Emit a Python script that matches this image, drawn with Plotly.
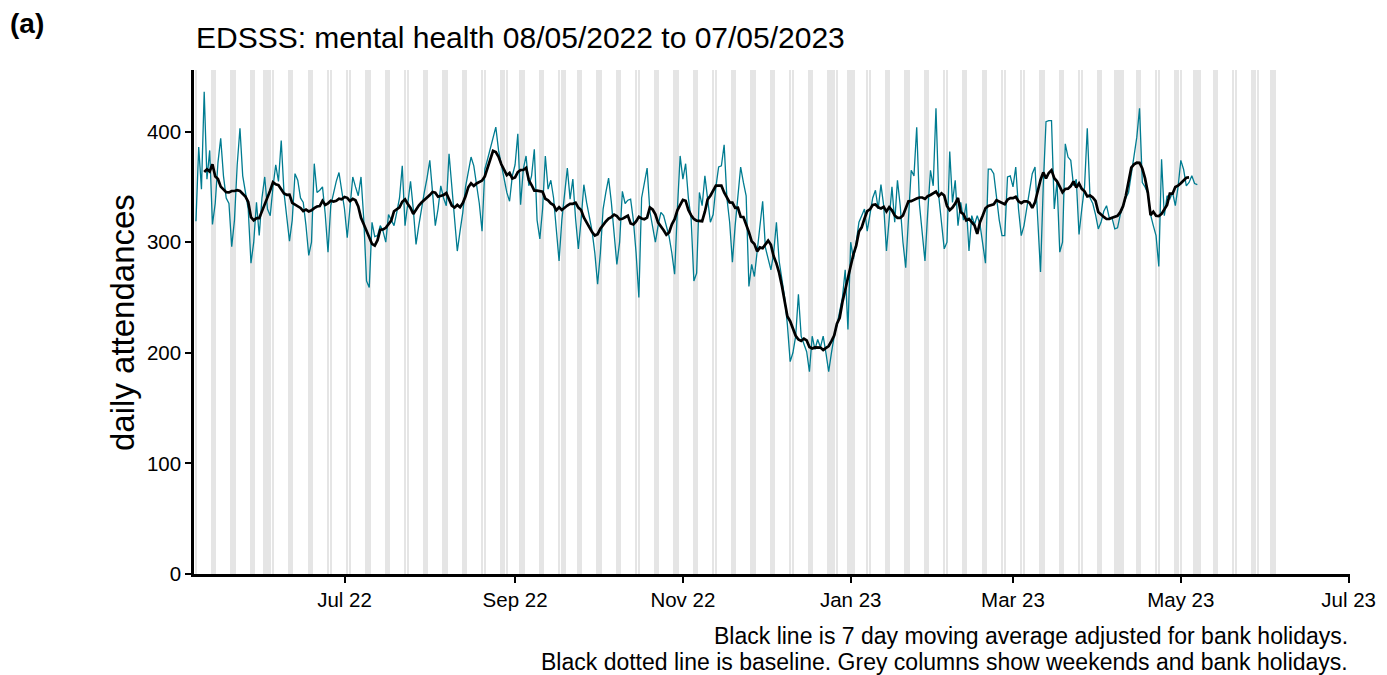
import pandas as pd
import plotly.graph_objects as go

# Daily mental health attendances, 08/05/2022 to 07/05/2023 (weeks start on Sunday)
start_date = "2022-05-08"
daily_attendances = [
    319, 386, 348, 436, 357, 383, 316,
    335, 372, 394, 360, 340, 335, 296,
    320, 370, 403, 360, 345, 330, 281,
    300, 336, 306, 340, 359, 330, 324,
    350, 370, 355, 392, 345, 325, 301,
    320, 362, 356, 340, 336, 315, 288,
    300, 371, 345, 347, 350, 325, 291,
    333, 345, 355, 363, 345, 330, 304,
    330, 359, 350, 342, 359, 321, 265,
    259, 318, 305, 306, 315, 310, 300,
    325, 320, 315, 327, 340, 369, 315,
    335, 355, 330, 298, 315, 331, 345,
    358, 374, 345, 315, 330, 351, 340,
    333, 380, 350, 327, 292, 310, 327,
    350, 365, 377, 369, 350, 335, 310,
    366, 375, 385, 395, 404, 383, 370,
    359, 345, 337, 360, 370, 398, 334,
    366, 378, 351, 360, 384, 320, 303,
    330, 378, 348, 356, 340, 310, 283,
    320, 345, 367, 339, 357, 321, 294,
    320, 352, 336, 324, 310, 290, 262,
    290, 330, 345, 358, 336, 310, 280,
    300, 346, 335, 338, 339, 320, 290,
    250, 340, 355, 367, 328, 315, 300,
    315, 327, 324, 315, 305, 290, 271,
    330, 378, 357, 371, 340, 321, 265,
    272, 345, 333, 360, 340, 318, 325,
    350, 368, 369, 388, 340, 318, 282,
    315, 340, 368, 354, 342, 260, 280,
    269, 291, 310, 337, 295, 285, 275,
    290, 318, 283, 265, 250, 225, 192,
    200, 215, 253, 215, 208, 201, 183,
    215, 203, 212, 205, 215, 200, 183,
    200, 215, 225, 236, 250, 275, 221,
    300, 285, 300, 318, 324, 330, 310,
    327, 340, 347, 330, 352, 333, 292,
    320, 350, 318, 356, 333, 300, 277,
    320, 365, 360, 404, 334, 310, 283,
    327, 365, 351, 421, 342, 320, 294,
    300, 382, 336, 356, 315, 336, 320,
    335, 292, 324, 316, 324, 316, 300,
    281, 366, 366, 362, 339, 320, 306,
    306, 359, 360, 350, 368, 330, 306,
    315, 330, 348, 362, 368, 321, 273,
    351, 409, 410, 410, 330, 355, 291,
    300, 389, 377, 374, 351, 357, 307,
    330, 350, 403, 340, 335, 325, 312,
    318, 328, 333, 322, 322, 312, 313,
    325, 333, 340, 345, 360, 378, 395,
    421, 354, 350, 344, 325, 315, 306,
    278, 375, 324, 342, 339, 345, 333,
    350, 374, 366, 351, 354, 360, 353,
    352,
]

# England bank holidays in the period shown
bank_holidays = [
    "2022-06-02", "2022-06-03", "2022-08-29", "2022-09-19",
    "2022-12-26", "2022-12-27", "2023-01-02", "2023-04-07",
    "2023-04-10", "2023-05-01", "2023-05-08", "2023-05-29",
]
shading_end = "2023-06-04"

x_tick_dates = ["2022-07-01", "2022-09-01", "2022-11-01", "2023-01-01",
                "2023-03-01", "2023-05-01", "2023-07-01"]
x_tick_labels = ["Jul 22", "Sep 22", "Nov 22", "Jan 23", "Mar 23", "May 23", "Jul 23"]
y_tick_values = [0, 100, 200, 300, 400]

title_text = "EDSSS: mental health 08/05/2022 to 07/05/2023"
caption_lines = [
    "Black line is 7 day moving average adjusted for bank holidays.",
    "Black dotted line is baseline. Grey columns show weekends and bank holidays.",
]

# ---- derived series ----
dates = pd.date_range(start_date, periods=len(daily_attendances), freq="D")
series = pd.Series(daily_attendances, index=dates, dtype=float)
moving_avg = series.rolling(7, center=True).mean()

cal = pd.date_range(start_date, shading_end, freq="D")
bh = pd.to_datetime(bank_holidays)
shade_days = cal[(cal.dayofweek >= 5) | cal.isin(bh)]

Y_TOP = 455.7
X_RANGE = ["2022-05-07 07:00", "2023-07-01 12:00"]
DAY_MS = 86400000
FONT = "Arial, 'Liberation Sans', sans-serif"
TEAL = "#007C91"

fig = go.Figure()
fig.add_trace(go.Bar(
    x=shade_days, y=[Y_TOP] * len(shade_days), width=0.9 * DAY_MS,
    marker=dict(color="#E5E5E5", line=dict(width=0)),
    hoverinfo="skip", showlegend=False,
))
fig.add_trace(go.Scatter(
    x=dates, y=series.values, mode="lines",
    line=dict(color=TEAL, width=1.3), showlegend=False,
))
fig.add_trace(go.Scatter(
    x=dates, y=moving_avg.values, mode="lines",
    line=dict(color="black", width=2.7), showlegend=False,
))

fig.update_layout(
    width=1387, height=675,
    margin=dict(l=194, r=37, t=70, b=101),
    paper_bgcolor="white", plot_bgcolor="white",
    bargap=0, font=dict(family=FONT, color="black"),
    xaxis=dict(
        type="date", range=X_RANGE,
        tickvals=x_tick_dates, ticktext=x_tick_labels,
        ticks="outside", ticklen=6, tickwidth=2, tickcolor="black",
        showline=True, linecolor="black", linewidth=2.5,
        showgrid=False, zeroline=False,
        tickfont=dict(size=20.5, family=FONT, color="black"),
    ),
    yaxis=dict(
        range=[0, Y_TOP], tickvals=y_tick_values,
        ticks="outside", ticklen=6, tickwidth=2, tickcolor="black",
        showline=True, linecolor="black", linewidth=2.5,
        showgrid=False, zeroline=False,
        tickfont=dict(size=20.5, family=FONT, color="black"),
    ),
)

annotations = [
    dict(text="<b>(a)</b>", xref="paper", yref="paper", x=-0.161, y=1.093,
         xanchor="left", yanchor="middle", showarrow=False,
         font=dict(size=28, family=FONT, color="black")),
    dict(text=title_text, xref="paper", yref="paper", x=0.0, y=1.0635,
         xanchor="left", yanchor="middle", showarrow=False,
         font=dict(size=30, family=FONT, color="black")),
    dict(text="daily attendances", xref="paper", yref="paper", x=-0.0623, y=0.5,
         xanchor="center", yanchor="middle", textangle=-90, showarrow=False,
         font=dict(size=33, family=FONT, color="black")),
]
for k, line in enumerate(caption_lines):
    annotations.append(dict(
        text=line, xref="paper", yref="paper", x=1.0, y=-0.123 - 0.052 * k,
        xanchor="right", yanchor="middle", showarrow=False,
        font=dict(size=23, family=FONT, color="black"),
    ))
fig.update_layout(annotations=annotations)

fig.write_html("out.html")
